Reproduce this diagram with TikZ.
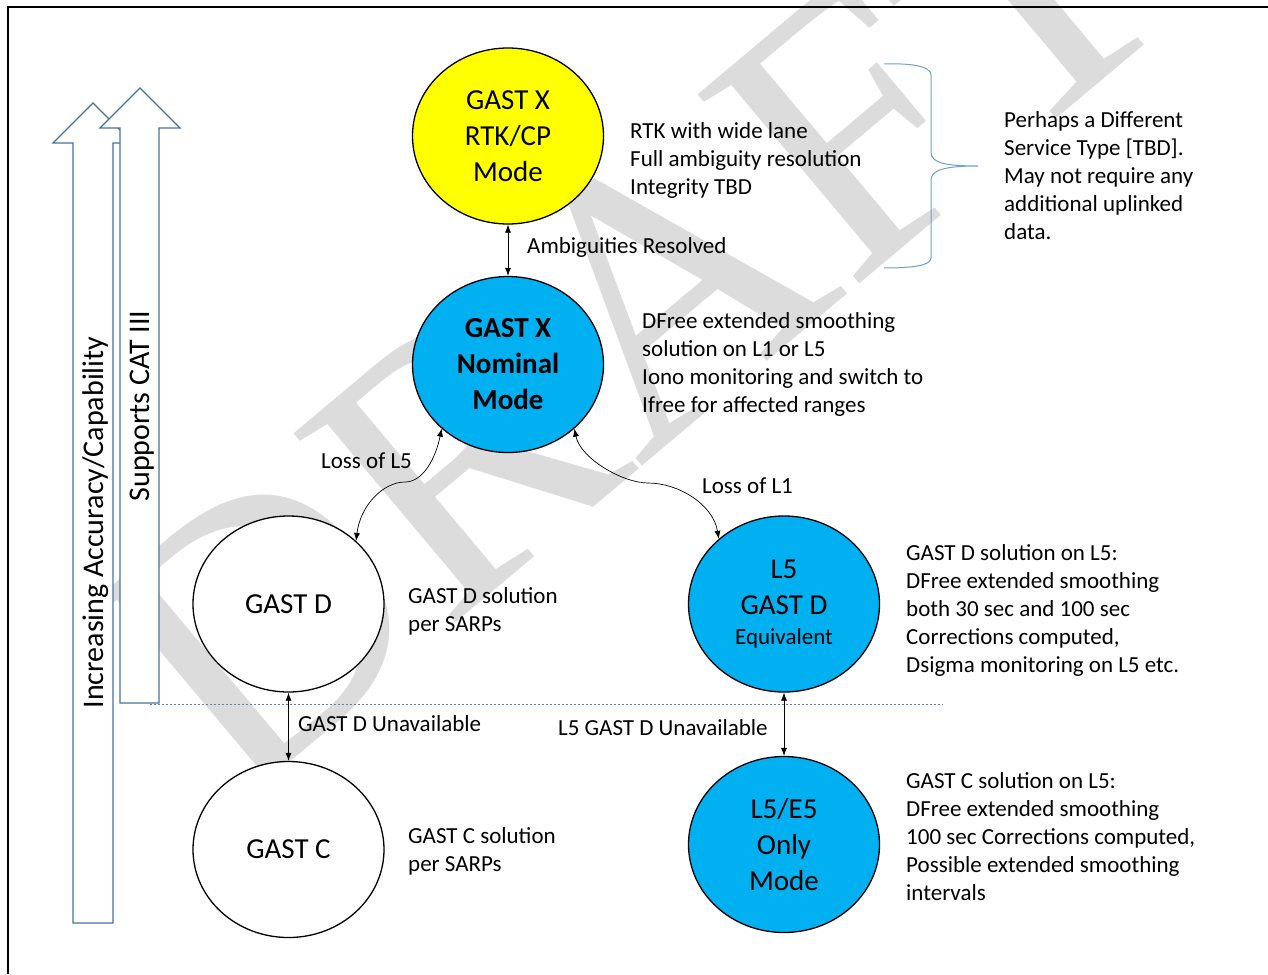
\documentclass[tikz,border=0pt]{standalone}
\usepackage{fontspec}
\setmainfont{Carlito}
\newfontfamily\wmfont{Liberation Serif}
\usetikzlibrary{arrows.meta,shapes.geometric}
\definecolor{wmgray}{RGB}{220,220,220}
\definecolor{arrowblue}{RGB}{71,114,160}
\definecolor{braceblue}{RGB}{110,160,210}
\definecolor{modeblue}{RGB}{0,176,240}
\definecolor{modeyellow}{RGB}{255,255,0}
\definecolor{dotblue}{RGB}{90,130,175}
\tikzset{
  mode/.style={ellipse, draw=black, line width=1.3pt, minimum width=191pt, minimum height=176pt, inner sep=0pt, align=center, font=\fontsize{29}{36}\selectfont},
  desc/.style={anchor=north west, inner sep=0pt, align=left, font=\fontsize{23}{28}\selectfont},
  lbl/.style={anchor=base west, inner sep=0pt, font=\fontsize{23}{28}\selectfont},
  conn/.style={{Latex[length=8pt,width=6pt]}-{Latex[length=8pt,width=6pt]}, line width=0.7pt, draw=black},
  bigarrow/.style={draw=arrowblue, fill=white, line width=1.4pt, line join=miter},
  side/.style={rotate=90, inner sep=0pt, font=\fontsize{30}{36}\selectfont}
}
\begin{document}
\begin{tikzpicture}[x=1pt,y=-1pt]
\useasboundingbox (0,0) rectangle (1268,974);
\fill[white] (0,0) rectangle (1268,974);
% watermark
\node[anchor=base west, rotate=40, inner sep=0pt, text=wmgray, font=\wmfont\fontsize{380}{380}\selectfont] (wm) at (235,808) {DRAFT};
% frame
\draw[line width=2pt] (8,974) -- (8,7) -- (1268,7);
% side arrows
\draw[bigarrow] (73,923) -- (73,143) -- (53,143) -- (93,103) -- (133,143) -- (113,143) -- (113,923) -- cycle;
\node[side] (t1) at (95.5,522.5) {Increasing Accuracy/Capability};
\draw[bigarrow] (120,703) -- (120,128) -- (100,128) -- (140,88) -- (180,128) -- (159,128) -- (159,703) -- cycle;
\node[side] (t2) at (142.5,406) {Supports CAT III};
% dotted separator
\draw[dotblue, line width=0.9pt, dash pattern=on 2pt off 2pt] (150,704) -- (943,704);
% brace
\draw[braceblue, line width=1pt] (884,64) .. controls (910,63) and (931,66) .. (931,75) -- (931,152) .. controls (931,163) and (945,166) .. (978,166) .. controls (945,166) and (931,170) .. (931,180) -- (931,258) .. controls (931,266) and (910,268) .. (884,268);
% modes
\node[mode, fill=modeyellow] (rtk) at (508,136) {GAST X\\RTK/CP\\Mode};
\node[mode, fill=modeblue, font=\bfseries\fontsize{29}{36}\selectfont] (nom) at (508,364.5) {GAST X\\Nominal\\Mode};
\node[mode, fill=white] (gd) at (288.5,604) {GAST D};
\node[mode, fill=white] (gc) at (288.5,849.5) {GAST C};
\node[mode, fill=modeblue] (l5) at (784,604) {L5\\GAST D\\[-6pt]{\fontsize{23}{30}\selectfont Equivalent}};
\node[mode, fill=modeblue] (l5e5) at (784,844.5) {L5/E5\\Only\\Mode};
% connectors
\draw[conn] (rtk.south) -- (nom.north);
\draw[conn] (gd.south) -- (gc.north);
\draw[conn] (l5.south) -- (l5e5.north);
\coordinate (m1) at (405,482);
\coordinate (m2) at (648,483);
\draw[conn] (gd.43) .. controls +(4,-35) and +(-22,0) .. (m1) .. controls +(18,0) and +(-6,30) .. (nom.-136);
\draw[conn] (nom.-44) .. controls +(6,30) and +(-25,0) .. (m2) .. controls +(30,0) and +(-6,-35) .. (l5.135);
% connector labels
\node[lbl] (lamb) at (527,253) {Ambiguities Resolved};
\node[lbl] (ll5) at (321,468) {Loss of L5};
\node[lbl] (ll1) at (702,493) {Loss of L1};
\node[lbl] (lgd) at (298,731) {GAST D Unavailable};
\node[lbl] (ll5gd) at (558,735) {L5 GAST D Unavailable};
% descriptions
\node[desc] (drtk) at (630,118.4) {\strut RTK with wide lane\\Full ambiguity resolution\\Integrity TBD};
\node[desc] (dnom) at (642,308.4) {\strut DFree extended smoothing\\solution on L1 or L5\\Iono monitoring and switch to\\Ifree for affected ranges};
\node[desc] (dgd) at (408,583.4) {\strut GAST D solution\\per SARPs};
\node[desc] (dl5) at (906,540.4) {\strut GAST D solution on L5:\\DFree extended smoothing\\both 30 sec and 100 sec\\Corrections computed,\\Dsigma monitoring on L5 etc.};
\node[desc] (dgc) at (408,823.4) {\strut GAST C solution\\per SARPs};
\node[desc] (dl5e5) at (906,768.4) {\strut GAST C solution on L5:\\DFree extended smoothing\\100 sec Corrections computed,\\Possible extended smoothing\\intervals};
\node[desc] (dper) at (1004,107.4) {\strut Perhaps a Different\\Service Type [TBD].\\May not require any\\additional uplinked\\data.};
\end{tikzpicture}
\end{document}
